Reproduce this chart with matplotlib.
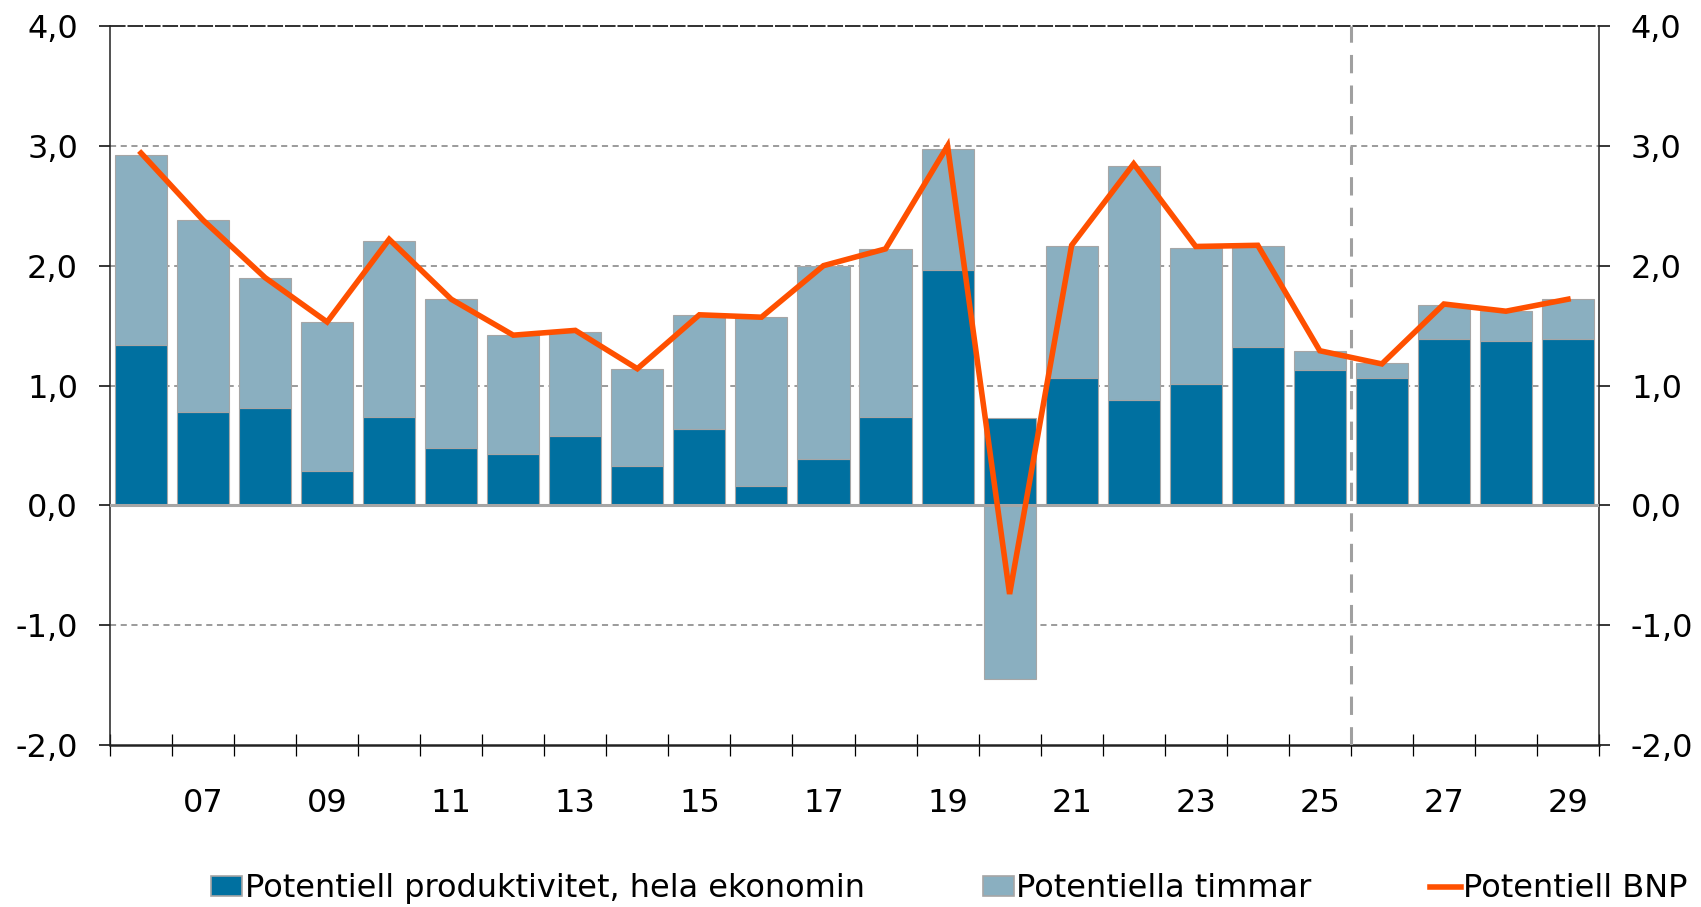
import matplotlib
matplotlib.use("Agg")
import matplotlib.pyplot as plt
import numpy as np
from matplotlib.patches import Patch
from matplotlib.lines import Line2D
from matplotlib.ticker import FuncFormatter

# data
years = list(range(2006, 2030))
produktivitet = [1.34, 0.78, 0.81, 0.29, 0.74, 0.48, 0.43, 0.58, 0.33, 0.64, 0.16, 0.39,
                 0.74, 1.96, 0.73, 1.06, 0.88, 1.01, 1.32, 1.13, 1.06, 1.39, 1.37, 1.39]
timmar = [1.58, 1.60, 1.09, 1.24, 1.47, 1.24, 0.99, 0.87, 0.81, 0.95, 1.41, 1.61,
          1.40, 1.01, -1.45, 1.10, 1.95, 1.14, 0.84, 0.16, 0.13, 0.28, 0.25, 0.33]
bnp = [2.94, 2.38, 1.90, 1.53, 2.22, 1.72, 1.42, 1.46, 1.14, 1.59, 1.57, 2.00,
       2.14, 3.00, -0.74, 2.17, 2.85, 2.16, 2.17, 1.29, 1.18, 1.68, 1.62, 1.72]
tick_labels = ["07", "09", "11", "13", "15", "17", "19", "21", "23", "25", "27", "29"]

c_dark = "#0070A0"
c_light = "#8AAFC0"
c_line = "#FF5000"
c_edge = "#A6A6A6"

plt.rcParams["font.family"] = "DejaVu Sans"
plt.rcParams["font.size"] = 23

fig = plt.figure(figsize=(17.01, 9.07), dpi=100)
ax = fig.add_axes([110 / 1701, 1 - 745 / 907, (1599 - 110) / 1701, (745 - 26) / 907])

x = np.arange(len(years))
prod = np.array(produktivitet)
tim = np.array(timmar)
bottom_tim = np.where(tim >= 0, prod, 0)

ax.bar(x, prod, width=0.84, color=c_dark, edgecolor=c_edge, linewidth=0.8, zorder=2)
ax.bar(x, tim, width=0.84, bottom=bottom_tim, color=c_light, edgecolor=c_edge,
       linewidth=0.8, zorder=2)
ax.plot(x, bnp, color=c_line, lw=4, zorder=4, solid_joinstyle="miter")

ax.set_xlim(-0.5, len(years) - 0.5)
ax.set_ylim(-2, 4)

# grid
for v in [1, 2, 3, -1]:
    ax.axhline(v, color="#808080", lw=1.1, ls=(0, (4, 3)), zorder=1)
ax.axhline(4, color="#303030", lw=1.4, ls=(0, (8, 1)), zorder=1, clip_on=False)
ax.axhline(0, color=c_edge, lw=2.2, zorder=3)
ax.axvline(19.5, color="#A0A0A0", lw=2.2, ls=(0, (6, 4)), zorder=3)

ax.spines["top"].set_visible(False)
for s in ["left", "right", "bottom"]:
    ax.spines[s].set_color("#222222")
    ax.spines[s].set_linewidth(1.1)
ax.spines["bottom"].set_linewidth(1.8)

ax.set_yticks(np.arange(-2, 4.1, 1))
ax.yaxis.set_major_formatter(FuncFormatter(lambda v, p: f"{v:.1f}".replace(".", ",")))
ax.yaxis.set_ticks_position("both")
ax.tick_params(axis="y", direction="out", length=8, width=1.1, pad=15,
               labelright=True, labelleft=True)

ax.set_xticks(np.arange(-0.5, len(years), 1))
ax.set_xticklabels([])
ax.tick_params(axis="x", which="major", direction="inout", length=16, width=0.9)
ax.set_xticks(np.arange(1, len(years), 2), minor=True)
ax.set_xticklabels(tick_labels, minor=True)
ax.tick_params(axis="x", which="minor", length=0, pad=31)

handles = [
    Patch(facecolor=c_dark, edgecolor=c_edge, linewidth=1.2),
    Patch(facecolor=c_light, edgecolor=c_edge, linewidth=1.2),
    Line2D([0], [0], color=c_line, lw=4),
]
labels = ["Potentiell produktivitet, hela ekonomin", "Potentiella timmar", "Potentiell BNP"]
fig.legend(handles, labels, loc="center left", bbox_to_anchor=(211 / 1701, 0.02),
           ncol=3, frameon=False, borderpad=0, borderaxespad=0, handlelength=0.97,
           handleheight=0.57, handletextpad=0.08, columnspacing=3.7, fontsize=23)

fig.savefig("out.png", dpi=100)
